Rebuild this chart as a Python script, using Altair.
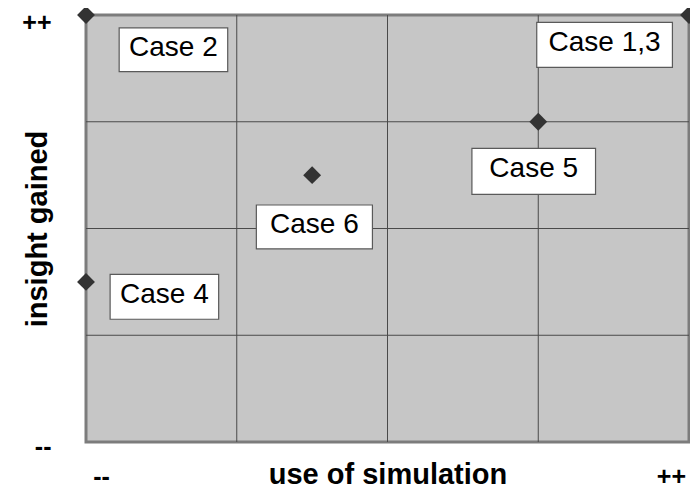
import altair as alt
import pandas as pd

# Cases (points)
cases = ["Case 2", "Case 1,3", "Case 5", "Case 6", "Case 4"]
use_sim = [0, 4, 3, 1.5, 0]
insight = [4, 4, 3, 2.5, 1.5]

# Label boxes (data coordinates)
box_x0 = [0.22, 2.99, 2.56, 1.13, 0.16]
box_x1 = [0.94, 3.89, 3.38, 1.90, 0.88]
box_y0 = [3.47, 3.51, 2.32, 1.81, 1.15]
box_y1 = [3.88, 3.93, 2.75, 2.22, 1.57]

grid_vals = [1, 2, 3]
x_tick_vals = [0.1, 3.88]
y_tick_vals = [0, 4]
tick_text = ["--", "++"]

FONT = "Liberation Sans"

pts = pd.DataFrame({"case": cases, "use": use_sim, "ins": insight})
boxes = pd.DataFrame({
    "case": cases, "x0": box_x0, "x1": box_x1, "y0": box_y0, "y1": box_y1,
})
boxes["xc"] = (boxes.x0 + boxes.x1) / 2
boxes["yc"] = (boxes.y0 + boxes.y1) / 2
grid = pd.DataFrame({"g": grid_vals})

xscale = alt.Scale(domain=[0, 4], nice=False, zero=False)
yscale = alt.Scale(domain=[0, 4], nice=False, zero=False)

xaxis = alt.Axis(
    values=x_tick_vals,
    labelExpr=f"datum.value < 2 ? '{tick_text[0]}' : '{tick_text[1]}'",
    ticks=False, tickSize=0, domain=False, grid=False,
    labelFont=FONT, labelFontSize=25, labelFontWeight="bold", labelColor="black",
    labelPadding=34, labelBaseline="middle", labelAngle=0, labelOverlap=False,
    labelFlush=False,
    title="use of simulation", titleFont=FONT, titleFontSize=29,
    titleFontWeight="bold", titleColor="black", titleX=301.5, titleY=41,
    titleBaseline="alphabetic", titleAlign="center",
)
yaxis = alt.Axis(
    values=y_tick_vals,
    labelExpr=f"datum.value < 2 ? '{tick_text[0]}' : '{tick_text[1]}'",
    ticks=False, tickSize=0, domain=False, grid=False,
    labelFont=FONT, labelFontSize=25, labelFontWeight="bold", labelColor="black",
    labelPadding=35, labelBaseline="middle", labelAlign="right",
    labelOverlap=False, labelFlush=False,
    labelOffset={"condition": {"test": "datum.value < 2", "value": 4}, "value": 7},
    title="insight gained", titleFont=FONT, titleFontSize=29,
    titleFontWeight="bold", titleColor="black", titleX=-40, titleY=213.5,
    titleBaseline="alphabetic", titleAlign="center", titleAngle=-90,
)

vgrid = alt.Chart(grid).mark_rule(color="#4a4a4a", strokeWidth=1).encode(
    x=alt.X("g:Q", scale=xscale, axis=xaxis)
)
hgrid = alt.Chart(grid).mark_rule(color="#4a4a4a", strokeWidth=1).encode(
    y=alt.Y("g:Q", scale=yscale, axis=yaxis)
)
rects = alt.Chart(boxes).mark_rect(
    fill="white", stroke="#5a5a5a", strokeWidth=1.2
).encode(
    x=alt.X("x0:Q", scale=xscale, axis=xaxis), x2="x1:Q",
    y=alt.Y("y0:Q", scale=yscale, axis=yaxis), y2="y1:Q",
)
texts = alt.Chart(boxes).mark_text(
    font=FONT, fontSize=28, color="black", baseline="middle", align="center", dy=-2
).encode(
    x=alt.X("xc:Q", scale=xscale, axis=xaxis),
    y=alt.Y("yc:Q", scale=yscale, axis=yaxis),
    text="case:N",
)
points = alt.Chart(pts).mark_point(
    shape="diamond", filled=True, size=320, color="#333333", opacity=1
).encode(
    x=alt.X("use:Q", scale=xscale, axis=xaxis),
    y=alt.Y("ins:Q", scale=yscale, axis=yaxis),
)

chart = alt.layer(vgrid, hgrid, rects, texts, points).properties(
    width=603, height=427,
    autosize=alt.AutoSizeParams(type="none"),
    padding={"left": 78, "top": 7, "right": 1, "bottom": 47},
    background="white",
).configure_view(
    fill="#c6c6c6", stroke="#7c7c7c", strokeWidth=3
)

chart.save("out.html", embed_options={"renderer": "svg", "actions": False})
